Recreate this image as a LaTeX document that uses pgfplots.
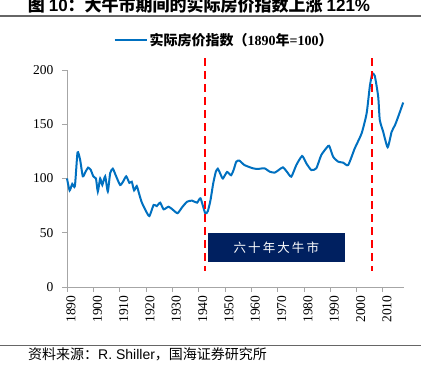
\documentclass[border=0pt]{standalone}
\usepackage{pgfplots}
\pgfplotsset{compat=1.18}
\usepackage{fontspec}
\setmainfont{Liberation Serif}
\newfontfamily\cjk{Noto Sans CJK SC}
\newfontfamily\arial{Liberation Sans}
\definecolor{lineblue}{HTML}{0070C0}
\definecolor{navy}{HTML}{002060}
\definecolor{axgray}{HTML}{A6A6A6}
\begin{document}
\begin{tikzpicture}
\path[use as bounding box] (0pt,0pt) rectangle (428pt,380pt);
% title
\node[anchor=base,font=\cjk\bfseries\fontsize{17}{17}\selectfont] at (199pt,368pt) {图 {\arial\bfseries 10}：大牛市期间的实际房价指数上涨 {\arial\bfseries 121\%}};
\draw[gray!80!black,line width=1.2pt] (0pt,364pt) -- (421pt,364pt);
\draw[gray!80!black,line width=1pt] (0pt,34.5pt) -- (421pt,34.5pt);
\node[anchor=base west,font=\cjk\fontsize{14}{14}\selectfont,inner sep=0pt] at (28pt,20pt) {资料来源：{\arial R. Shiller}，国海证券研究所};
\begin{axis}[
  at={(67pt,93pt)}, anchor=south west,
  scale only axis, width=337pt, height=217pt,
  xmin=1890, xmax=2018, ymin=0, ymax=200,
  axis lines*=left,
  axis line style={axgray, line width=0.9pt},
  every tick/.style={axgray, line width=0.9pt},
  tick align=outside, major tick length=5pt,
  xtick={1890,1900,...,2010},
  ytick={0,50,100,150,200},
  x tick label style={rotate=90, anchor=east, yshift=-4pt, font=\fontsize{13.5}{13.5}\selectfont},
  y tick label style={xshift=-5pt, font=\fontsize{13.5}{13.5}\selectfont},
  /pgf/number format/assume math mode=true,
  /pgf/number format/1000 sep={},
  clip=false,
  legend style={at={(0.466,1.138)}, anchor=center, draw=none, fill=none,
    font=\cjk\bfseries\fontsize{14}{14}\selectfont},
  legend image code/.code={\draw[#1] (0,0) -- (32pt,0);},
]
\addplot[lineblue, line width=2pt, smooth, tension=0.35] coordinates {
(1890,100) (1891,89) (1892,95) (1893,93) (1894,124) (1895,117) (1896,102)
(1897,106) (1898,110) (1899,108) (1900,102) (1901,100) (1901.7,88) (1902.6,100)
(1903.4,94) (1904.5,102) (1905.5,88) (1906.4,105) (1907.4,109) (1908.5,103)
(1910.2,94) (1911.5,98) (1912.5,102) (1913.7,96) (1914.6,97) (1915.5,89)
(1916.5,93) (1917.5,85) (1918.4,78) (1920,70) (1921.3,65.4) (1922.9,75.6)
(1924.1,74.6) (1925.4,77.7) (1926.7,71.6) (1928.6,74) (1930.3,71) (1932,68)
(1933.7,73.4) (1935.6,78.6) (1937.5,79.6) (1939.4,77.7) (1940.7,81.7)
(1942.5,68) (1943.5,70) (1944.5,80) (1945.5,95) (1946.5,106) (1947.3,109)
(1948.3,104) (1949.2,100) (1950.8,106) (1952.3,103) (1953.3,108) (1954.3,115.5)
(1955.5,116.4) (1957.4,112.4) (1960.6,109.4) (1962.5,108.8) (1965,109.4)
(1967,106.3) (1968.9,105.4) (1970.5,108) (1972,110.3) (1973.5,106.3)
(1975.2,101.7) (1977.1,112.4) (1979.3,120.7) (1980.9,114) (1982.8,107.8)
(1984.7,109.4) (1986.6,121.7) (1989.2,130) (1989.8,129) (1991.1,120)
(1993,115.5) (1994.9,114.6) (1996.8,112.4) (1999.3,127.8) (2001.9,141.6)
(2003.8,160) (2005,184.6) (2005.9,196.3) (2006.9,194.6) (2008.2,175.4)
(2008.8,154) (2010.1,143) (2011.8,128.8) (2013.3,143) (2014.6,149.3)
(2015.8,157) (2017.7,170)
};
\addlegendentry{实际房价指数（{\fontspec{Liberation Serif}\bfseries 1890}年{\fontspec{Liberation Serif}\bfseries =100}）}
\addplot[red, line width=2pt, dash pattern=on 8pt off 5pt, forget plot] coordinates {(1942.6,211) (1942.6,15)};
\addplot[red, line width=2pt, dash pattern=on 8pt off 5pt, forget plot] coordinates {(2005.7,211) (2005.7,15)};
\fill[navy] (axis cs:1943.6,23) rectangle (axis cs:1995.5,49.8);
\node[white, font=\cjk\fontsize{12.5}{12.5}\selectfont] at (axis cs:1969.5,36.4) {六\,十\,年\,大\,牛\,市};
\end{axis}
\end{tikzpicture}
\end{document}
